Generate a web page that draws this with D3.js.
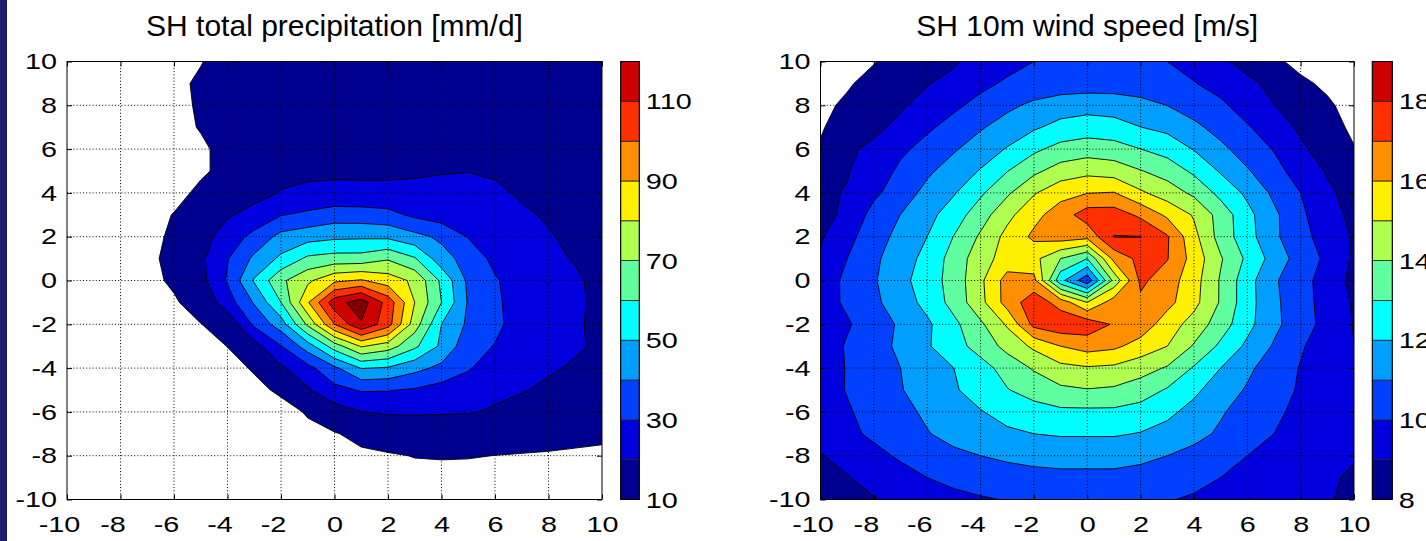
<!DOCTYPE html>
<html>
<head>
<meta charset="utf-8">
<script src="https://cdn.jsdelivr.net/npm/d3@7"></script>
<style>
body { margin: 0; background: #fff; }
svg text { font-family: "Liberation Sans", Arial, Helvetica, sans-serif; fill: #000; }
</style>
</head>
<body>
<svg id="fig" width="1426" height="541"></svg>
<script>
// grid the two fields were read on (1 unit spacing)
var gridX = [-10,-9,-8,-7,-6,-5,-4,-3,-2,-1,0,1,2,3,4,5,6,7,8,9,10];
var gridY = [10,9,8,7,6,5,4,3,2,1,0,-1,-2,-3,-4,-5,-6,-7,-8,-9,-10];
var axisTicks = [-10,-8,-6,-4,-2,0,2,4,6,8,10];

// SH total precipitation [mm/d], rows from y=10 down to y=-10
var precipLevels = [10,20,30,40,50,60,70,80,90,100,110,120];
var precipBarTicks = [10,30,50,70,90,110];
var precipRows = [
  [5,5.5,6.2,7,8,9.7,12.7,13.5,14,14,14,14,14,14,14,14,13.5,13,12.5,12,11.5],
  [5,5.7,6.5,7.5,8.5,11,12.5,13.5,14,14.5,14.5,14.5,14.5,14.5,14.5,14.5,14,13.5,13,12.5,12],
  [5,5.8,6.8,8,9.1,10.4,12.5,13.5,14,14.5,15,15,15,15,15,15,14.5,14,13.5,13,12.5],
  [5,5.6,6.5,7.5,8.5,10.3,12.5,13.5,14.5,15,15.5,15.5,15.5,15.5,15.5,15.5,15,14.5,14,13,12.5],
  [5,5.6,6.2,7,8,9.2,11.5,13.5,15,16,16.5,16.5,16.5,17,17,17,16.5,15.5,14.5,13.5,13],
  [5,5.8,6.5,7.2,8,9.3,11.3,14,17.5,18.5,18.7,18.5,18.5,19,19.6,19.9,19.3,18,16.5,15,14],
  [5.5,6.2,7,7.8,8.5,11,14,17,20.5,21.5,22,22,22,22,22,21.5,21,19.3,17.5,16,15],
  [6,6.8,7.5,8.2,10.2,14.5,19,23,29.5,32,35,34.5,33,28,25,23.5,22,20.8,19.3,17,15.5],
  [6,7,8,8.8,10.7,16,24.5,33,43,46,48,48.5,48,43,38,29.5,26,23,20.5,18.5,16.5],
  [6,7,8,9.2,11,18,29.5,42,52,62,64,64,69,61,44,36,27.4,24,21.5,19.5,17],
  [5.5,6.5,7.5,8.8,10.7,17,31,51,68,78,88,91,85,78,58,38,31,25,23,21,18],
  [5,6,7,8,9.5,12,25.3,41,60,89,116,125,106,80,60,39,31.5,26,24,21,18.5],
  [4.5,5.5,6.5,7.5,8.7,9.9,12,32,45,72,100,119,104,75,50,38.2,32,26,23.5,21,18],
  [4.5,5,5.8,6.5,7,7.6,10.1,16,29.5,45,65,81,75,62,48,33.5,29.6,26.5,23.5,21,18.5],
  [4,4.5,5,5.5,6.3,7,8,10.6,18.5,27,38,50.5,49,43,37.5,31,24.5,22,21,19,17],
  [3.5,4,4.5,5,5.7,6.5,7.3,8.5,11,18.8,27,30.8,30.5,29,26,24,22,20.5,18.5,17,15.5],
  [3.5,3.8,4.2,4.8,5.5,6.2,6.8,7.4,8,10.5,15.5,19.8,21,21,20.8,20.6,19,17,15.5,14.5,13.5],
  [3,3.5,4,4.5,5,5.5,6.2,7,7.8,8.7,9.5,12,13.5,14,14,13.5,13,12.5,12,11.5,11],
  [2.5,3,3.5,4,4.5,5,5.5,6,6.8,7.5,8,8.7,9.4,10.2,10.4,10.3,9.95,9.7,9.5,9.2,9],
  [2.5,2.8,3.2,3.6,4,4.5,5,5.5,6,6.5,7,7.5,8,8.3,8.3,8.2,8,7.8,7.6,7.4,7.2],
  [2,2.4,2.8,3.2,3.6,4,4.5,5,5.5,6,6.5,7,7,7,7,7,7,6.8,6.6,6.4,6.2]
];

// SH 10m wind speed [m/s], rows from y=10 down to y=-10
var windLevels = [8,9,10,11,12,13,14,15,16,17,18,19];
var windBarTicks = [8,10,12,14,16,18];
var windRows = [
  [7.3,7.6,7.95,8.4,8.75,8.9,9.3,9.7,10.0,10.2,10.3,10.35,10.3,10.0,9.6,9.15,8.7,8.2,7.7,7.3,7.0],
  [7.6,7.9,8.3,8.6,8.95,9.25,9.78,10.13,10.3,10.45,10.5,10.5,10.4,10.2,10.05,9.6,9.2,8.75,8.2,7.8,7.5],
  [7.8,8.15,8.6,8.9,9.3,9.83,10.27,10.78,11.21,11.51,11.63,11.56,11.34,10.99,10.49,10.2,9.5,9.02,8.6,8.16,7.6],
  [7.9,8.5,8.8,9.2,9.85,10.32,10.9,11.42,11.87,12.3,12.49,12.37,12.01,11.75,11.25,10.6,10.1,9.4,8.85,8.4,7.8],
  [8.1,8.85,9.2,9.82,10.31,10.9,11.47,12.07,12.8,13.33,13.54,13.41,13.01,12.6,11.95,11.25,10.5,9.95,9.15,8.6,8.05],
  [8.6,8.95,9.45,10.19,10.83,11.43,12.07,12.97,13.78,14.44,14.72,14.54,14.05,13.6,12.8,11.9,11.1,10.3,9.6,8.9,8.4],
  [8.85,9.05,9.8,10.5,11.29,11.92,12.84,13.84,14.91,15.66,15.97,16.05,15.16,14.5,13.8,12.7,11.8,10.8,10.0,9.2,8.6],
  [8.7,9.2,10.35,11.01,11.68,12.52,13.54,14.72,15.7,16.5,17.5,17.5,16.8,15.8,14.9,13.6,12.3,11.2,10.2,9.3,8.8],
  [8.9,9.7,10.55,11.31,12.0,13.03,14.15,15.3,16.2,16.5,16.3,18.03,18.02,17.1,15.3,13.6,12.4,11.2,10.3,9.6,8.9],
  [9.1,10.0,10.82,11.5,12.32,13.39,14.6,15.4,15.3,14.0,13.0,16.3,17.3,17.05,15.6,14.1,12.8,11.6,10.55,9.8,8.85],
  [9.5,10.2,10.9,11.7,12.5,13.4,14.8,16.4,16.3,12.3,10.3,14.3,17.2,16.5,15.4,13.9,12.4,11.1,10.5,9.4,8.8],
  [9.6,10.15,10.8,11.5,12.3,13.35,14.7,16.4,17.6,16.6,15.0,16.5,16.8,16.3,15.3,13.9,12.4,11.2,10.4,9.6,8.9],
  [9.52,9.9,10.48,11.15,11.83,12.76,13.82,15.13,17.3,17.7,17.6,16.9,16.6,15.5,14.6,13.5,12.3,11.25,10.4,9.7,8.95],
  [9.4,10.1,10.6,11.2,11.9,12.6,13.4,14.3,15.2,16.0,16.4,16.2,15.6,15.0,13.9,12.8,11.8,10.9,10.1,9.5,9.0],
  [9.5,10.05,10.55,11.0,11.5,12.0,12.6,13.4,14.1,14.72,14.9,14.8,14.4,13.9,12.9,12.0,11.2,10.5,9.95,9.6,9.3],
  [9.55,10.05,10.5,10.95,11.4,11.9,12.4,12.95,13.4,13.8,13.95,13.85,13.5,12.9,12.2,11.5,10.9,10.35,9.9,9.6,9.35],
  [9.5,9.9,10.35,10.75,11.15,11.55,11.95,12.3,12.6,12.8,12.8,12.8,12.6,12.2,11.7,11.1,10.6,10.15,9.8,9.55,9.3],
  [9.3,9.75,10.2,10.6,10.95,11.3,11.6,11.85,12.0,12.1,12.1,12.1,11.95,11.7,11.3,10.85,10.4,10.0,9.7,9.45,9.2],
  [8.95,9.3,9.7,10.15,10.5,10.8,11.0,11.15,11.25,11.3,11.3,11.3,11.2,11.0,10.7,10.35,10.0,9.7,9.45,9.2,9.05],
  [8.6,8.95,9.3,9.6,10.0,10.3,10.5,10.65,10.75,10.8,10.8,10.8,10.7,10.5,10.25,10.0,9.75,9.5,9.3,9.1,8.9],
  [8.3,8.6,8.95,9.25,9.5,9.7,9.9,10.05,10.2,10.3,10.3,10.3,10.2,10.05,9.9,9.7,9.5,9.35,9.2,9.05,8.85]
];

// one colour per contour band (jet, as picked by contourf)
var bandColors = ["#00008f","#0000df","#0040ff","#009fff","#00ffff","#60ff9f",
                  "#afff50","#ffef00","#ff8f00","#ff3000","#cf0000","#800000"];

var svg = d3.select('#fig');
var plotTop = 61.5, plotBottom = 499.5;
var numSize = 22.5, numStretch = 1.28;   // tick numbers are drawn wide in the original

// dark slide edge on the left
svg.append('rect').attr('x', 0).attr('y', 0).attr('width', 7).attr('height', 541).attr('fill', '#1d1d70');

var drawPanel = function(cfg){
  var xScale = d3.scaleLinear().domain([-10, 10]).range([cfg.left, cfg.right]);
  var yScale = d3.scaleLinear().domain([-10, 10]).range([plotBottom, plotTop]);
  var g = svg.append('g');

  g.append('clipPath').attr('id', cfg.id + 'clip')
    .append('rect')
    .attr('x', cfg.left).attr('y', plotTop)
    .attr('width', cfg.right - cfg.left).attr('height', plotBottom - plotTop);

  var values = [];
  cfg.rows.forEach(function(r){ values = values.concat(r); });
  var contours = d3.contours()
    .size([gridX.length, gridY.length])
    .thresholds(cfg.levels)(values);

  var dx = gridX[1] - gridX[0], dy = gridY[1] - gridY[0];
  var toScreen = d3.geoTransform({
    point: function(px, py){
      this.stream.point(xScale(gridX[0] + (px - 0.5) * dx), yScale(gridY[0] + (py - 0.5) * dy));
    }
  });
  var path = d3.geoPath(toScreen);

  var inner = g.append('g').attr('clip-path', 'url(#' + cfg.id + 'clip)');
  inner.selectAll('path.fill')
    .data(contours)
    .enter().append('path')
    .attr('class', 'fill')
    .attr('d', path)
    .attr('fill', function(d, i){ return bandColors[i]; });
  inner.selectAll('path.line')
    .data(contours)
    .enter().append('path')
    .attr('class', 'line')
    .attr('d', path)
    .attr('fill', 'none')
    .attr('stroke', '#000')
    .attr('stroke-width', 0.9);

  // dotted grid
  var gridTicks = axisTicks.slice(1, -1);
  inner.selectAll('line.gx').data(gridTicks).enter().append('line')
    .attr('x1', d => xScale(d)).attr('x2', d => xScale(d))
    .attr('y1', plotTop).attr('y2', plotBottom)
    .attr('stroke', '#000').attr('stroke-width', 1).attr('stroke-dasharray', '1,2.2');
  inner.selectAll('line.gy').data(gridTicks).enter().append('line')
    .attr('y1', d => yScale(d)).attr('y2', d => yScale(d))
    .attr('x1', cfg.left).attr('x2', cfg.right)
    .attr('stroke', '#000').attr('stroke-width', 1).attr('stroke-dasharray', '1,2.2');

  // axes, ticks inward on all four sides
  var fmt = function(d){ return String(d); };
  var bottom = g.append('g').attr('transform', 'translate(0,' + plotBottom + ')')
    .call(d3.axisBottom(xScale).tickValues(axisTicks).tickFormat(fmt).tickSizeInner(-5).tickSizeOuter(0).tickPadding(16.5));
  var left = g.append('g').attr('transform', 'translate(' + cfg.left + ',0)')
    .call(d3.axisLeft(yScale).tickValues(axisTicks).tickFormat(fmt).tickSizeInner(-5).tickSizeOuter(0).tickPadding(10));
  g.append('g').attr('transform', 'translate(0,' + plotTop + ')')
    .call(d3.axisTop(xScale).tickValues(axisTicks).tickFormat('').tickSizeInner(-5).tickSizeOuter(0));
  g.append('g').attr('transform', 'translate(' + cfg.right + ',0)')
    .call(d3.axisRight(yScale).tickValues(axisTicks).tickFormat('').tickSizeInner(-5).tickSizeOuter(0));
  g.selectAll('.domain').remove();
  g.selectAll('.tick line').attr('stroke', '#000');
  g.selectAll('.tick text').attr('font-size', numSize).attr('font-family', null)
    .attr('transform', 'scale(' + numStretch + ',1)');
  // negative labels sit a little left of their tick, as in the original
  bottom.selectAll('.tick text').attr('x', d => (d < 0 ? -8 : 0) / numStretch);
  left.selectAll('.tick text').attr('x', -10 / numStretch);

  g.append('rect')
    .attr('x', cfg.left).attr('y', plotTop)
    .attr('width', cfg.right - cfg.left).attr('height', plotBottom - plotTop)
    .attr('fill', 'none').attr('stroke', '#000').attr('stroke-width', 1);

  // title
  g.append('text')
    .attr('x', (cfg.left + cfg.right) / 2).attr('y', 36)
    .attr('text-anchor', 'middle').attr('font-size', 30)
    .text(cfg.title);

  // colour bar
  var lv = cfg.levels;
  var cb = d3.scaleLinear().domain([lv[0], lv[lv.length - 1]]).range([plotBottom, plotTop]);
  var bands = lv.slice(0, -1).map(function(v, i){ return {lo: v, hi: lv[i + 1], color: bandColors[i]}; });
  g.selectAll('rect.band').data(bands).enter().append('rect')
    .attr('class', 'band')
    .attr('x', cfg.barLeft).attr('width', cfg.barWidth)
    .attr('y', d => cb(d.hi)).attr('height', d => cb(d.lo) - cb(d.hi))
    .attr('fill', d => d.color)
    .attr('stroke', '#222').attr('stroke-width', 0.8);
  g.append('rect')
    .attr('x', cfg.barLeft).attr('y', plotTop)
    .attr('width', cfg.barWidth).attr('height', plotBottom - plotTop)
    .attr('fill', 'none').attr('stroke', '#000').attr('stroke-width', 1);
  g.selectAll('g.cb').data(cfg.barTicks).enter().append('g')
    .attr('class', 'cb')
    .attr('transform', d => 'translate(' + (cfg.barLeft + cfg.barWidth + 6.5) + ',' + cb(d) + ')')
    .append('text')
    .attr('transform', 'scale(' + numStretch + ',1)')
    .attr('dy', '0.36em')
    .attr('font-size', numSize)
    .text(d => d);
};

drawPanel({id: 'pr', left: 67, right: 602, barLeft: 620.7, barWidth: 18.6,
  rows: precipRows, levels: precipLevels, barTicks: precipBarTicks,
  title: 'SH total precipitation [mm/d]'});
drawPanel({id: 'ws', left: 820.5, right: 1354, barLeft: 1372.3, barWidth: 20,
  rows: windRows, levels: windLevels, barTicks: windBarTicks,
  title: 'SH 10m wind speed [m/s]'});
</script>
</body>
</html>
